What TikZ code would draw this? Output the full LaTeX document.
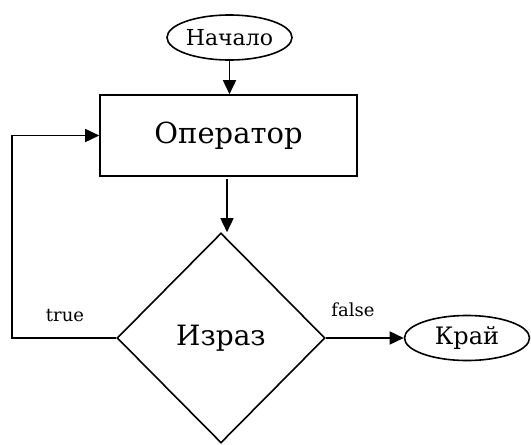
\documentclass[tikz,border=0pt]{standalone}
\usepackage{fontspec}
\setmainfont{DejaVu Serif}
\usetikzlibrary{shapes.geometric,arrows.meta}
\begin{document}
\begin{tikzpicture}[x=1pt,y=-1pt,
  line width=1.6pt,
  terminal/.style={draw,ellipse,inner sep=0pt,minimum width=125pt,minimum height=45pt},
  process/.style={draw,rectangle,inner sep=0pt,minimum width=257pt,minimum height=81pt,font=\fontsize{29}{32}\selectfont},
  decision/.style={draw,diamond,inner sep=0pt,minimum width=208pt,minimum height=210pt,font=\fontsize{28}{32}\selectfont},
  flow/.style={-{Triangle[length=14pt,width=13pt]}},
  edgelabel/.style={font=\fontsize{18}{20}\selectfont}]
\useasboundingbox (0,0) rectangle (531,445);

\node[terminal,font=\fontsize{22}{24}\selectfont] (start) at (229.5,37.5) {Начало};
\node[process] (op) at (228.5,135.5) {Оператор};
\node[decision] (expr) at (221,338) {Израз};
\node[terminal,font=\fontsize{24}{26}\selectfont] (end) at (467,338) {Край};
\coordinate (loop) at (12,338);

\draw[flow] (start.south) -- (start.south |- op.north);
\draw[flow,shorten <=2pt] (op.south -| 227,0) -- (expr.north -| 227,0);
\draw[flow] (expr.west) -- (loop) |- (op.west);
\draw[flow] (expr.east) -- (end.west);

\node[edgelabel] (t) at (65,316) {true};
\node[edgelabel] (f) at (353,310) {false};
\end{tikzpicture}
\end{document}
